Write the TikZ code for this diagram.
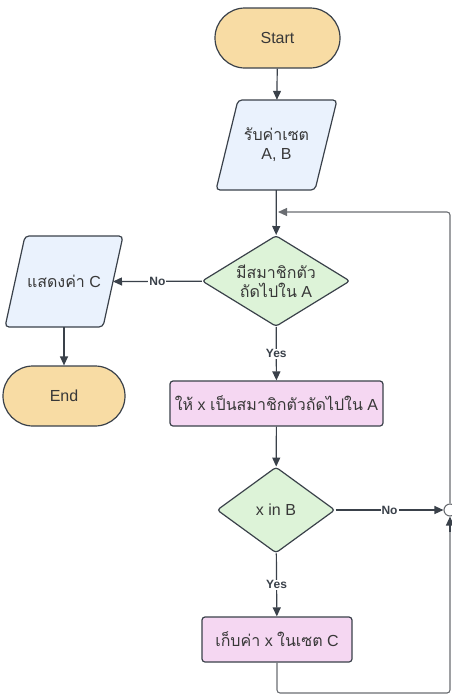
\documentclass[tikz,border=0pt]{standalone}
\usepackage{fontspec}
\setmainfont{Liberation Sans}
\newfontfamily\thaifont[Script=Thai]{Loma}
\usetikzlibrary{shapes.geometric,arrows.meta}
\definecolor{strk}{HTML}{3A414A}
\definecolor{loopc}{HTML}{6A6D72}
\definecolor{termf}{HTML}{F8DCA4}
\definecolor{iof}{HTML}{EAF2FD}
\definecolor{decf}{HTML}{DDF3D8}
\definecolor{procf}{HTML}{F5D7F2}
\tikzset{
  base/.style={draw=strk, line width=1.2pt, text=black!78, font=\fontsize{16}{19}\selectfont, align=center},
  term/.style={base, fill=termf, rounded corners=30pt, minimum width=125pt, minimum height=60pt},
  iopath/.style={draw=strk, line width=1.2pt, fill=iof, rounded corners=4pt},
  iotext/.style={text=black!78, font=\fontsize{16}{19}\selectfont, align=center, inner sep=0pt},
  decide/.style={base, fill=decf, diamond, aspect=1.6, inner sep=0pt, rounded corners=3pt},
  proc/.style={base, fill=procf, rounded corners=3pt, minimum height=45pt},
  conn/.style={draw=strk, line width=1.2pt, -{Triangle[length=9pt,width=8pt]}},
  loopln/.style={draw=loopc, line width=1.1pt, rounded corners=3pt},
  lbl/.style={fill=white, inner sep=1pt, font=\bfseries\fontsize{12}{14}\selectfont, text=strk}
}
\begin{document}
\begin{tikzpicture}[x=1pt,y=-1pt]
\useasboundingbox (0,0) rectangle (452,697);
% parallelograms drawn directly
\draw[iopath] (238,100) -- (337,100) -- (315,190) -- (216,190) -- cycle;
\draw[iopath] (25,236) -- (123,236) -- (103,327) -- (5,327) -- cycle;
\coordinate (outE) at (113,281.5);

\node[term] (start) at (277.5,38) {Start};
\node[iotext, minimum width=100pt, minimum height=90pt] (inp) at (276.5,145) {{\thaifont รับค่าเซต}\\A, B};
\node[decide, minimum width=148pt, minimum height=91pt] (d1) at (276,281) {{\thaifont มีสมาชิกตัว}\\{\thaifont ถัดไปใน} A};
\node[iotext, minimum width=98pt, minimum height=91pt] (out) at (64,281.5) {{\thaifont แสดงค่า} C};
\node[term, minimum width=122pt] (end) at (64,396) {End};
\node[proc, minimum width=213pt] (p1) at (276.5,403.5) {{\thaifont ให้} x {\thaifont เป็นสมาชิกตัวถัดไปใน} A};
\node[decide, minimum width=118pt, minimum height=86pt] (d2) at (276,510) {x in B};
\node[proc, minimum width=150pt] (p2) at (277,639.5) {{\thaifont เก็บค่า} x {\thaifont ในเซต} C};
\node[circle, draw=loopc, fill=white, line width=1.1pt, minimum size=12pt, inner sep=0pt] (jn) at (450,510) {};
\coordinate (bl) at (277,693);
\coordinate (br) at (450,693);
\coordinate (tr) at (450,212);
\coordinate (tl) at (278,212);
\coordinate (ja) at (450,532);

\draw[conn] (start) -- (inp);
\draw[conn] (inp) -- (d1);
\draw[conn] (d1) -- node[lbl]{No} (outE);
\draw[conn] (out) -- (end);
\draw[conn] (d1) -- node[lbl]{Yes} (p1);
\draw[conn] (p1) -- (d2);
\draw[conn] (d2) -- node[lbl]{No} (jn);
\draw[conn] (d2) -- node[lbl]{Yes} (p2);
\draw[loopln] (p2.south) -- (bl) -- (br) -- (ja);
\draw[conn] (ja) -- (jn.south);
\draw[loopln, -{Triangle[length=9pt,width=8pt]}] (jn.north) -- (tr) -- (tl);
\end{tikzpicture}
\end{document}
